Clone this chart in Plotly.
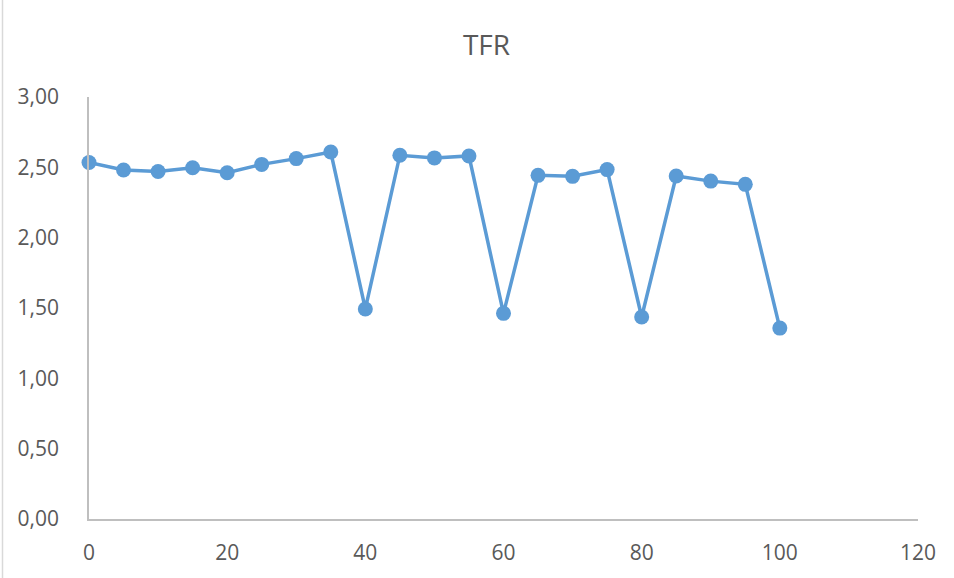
import plotly.graph_objects as go

x_vals = [0, 5, 10, 15, 20, 25, 30, 35, 40, 45, 50, 55, 60, 65, 70, 75, 80, 85, 90, 95, 100]
tfr = [2.534, 2.481, 2.470, 2.497, 2.462, 2.521, 2.562, 2.609, 1.493, 2.586, 2.567, 2.581,
       1.462, 2.443, 2.436, 2.484, 1.436, 2.438, 2.402, 2.379, 1.357]
title_text = "TFR"

W, H = 954, 578
L, R, T, B = 89, 36, 97, 59

fig = go.Figure()
fig.add_trace(go.Scatter(
    x=x_vals, y=tfr, mode="lines+markers",
    line=dict(color="#5B9BD5", width=3.5),
    marker=dict(color="#5B9BD5", size=15),
    cliponaxis=False, showlegend=False,
))

font_family = "Open Sans"
fig.update_layout(
    width=W, height=H,
    margin=dict(l=L, r=R, t=T, b=B, pad=0),
    paper_bgcolor="white", plot_bgcolor="white",
    separators=",.",
    title=dict(text=title_text, x=486.5 / W, xanchor="center",
               xref="container", yref="container", y=1 - 45 / H, yanchor="middle",
               font=dict(family=font_family, size=28, color="#595959")),
    xaxis=dict(range=[0, 120], dtick=20, tick0=0, showgrid=False, zeroline=False,
               showline=True, linecolor="#BFBFBF", linewidth=1.5, ticks="",
               ticklabelstandoff=14,
               tickfont=dict(family=font_family, size=21, color="#595959")),
    yaxis=dict(range=[0, 3], dtick=0.5, tick0=0, tickformat=".2f", showgrid=False,
               zeroline=False, showline=True, linecolor="#BFBFBF", linewidth=1.5,
               ticks="", ticklabelstandoff=24,
               tickfont=dict(family=font_family, size=21, color="#595959")),
    shapes=[dict(type="line", xref="paper", yref="paper", x0=-L / (W - L - R) + 2.5 / (W - L - R),
                 x1=-L / (W - L - R) + 2.5 / (W - L - R), y0=-B / (H - T - B), y1=1 + T / (H - T - B),
                 line=dict(color="#D9D9D9", width=1.5))],
)

fig.write_html("out.html")
